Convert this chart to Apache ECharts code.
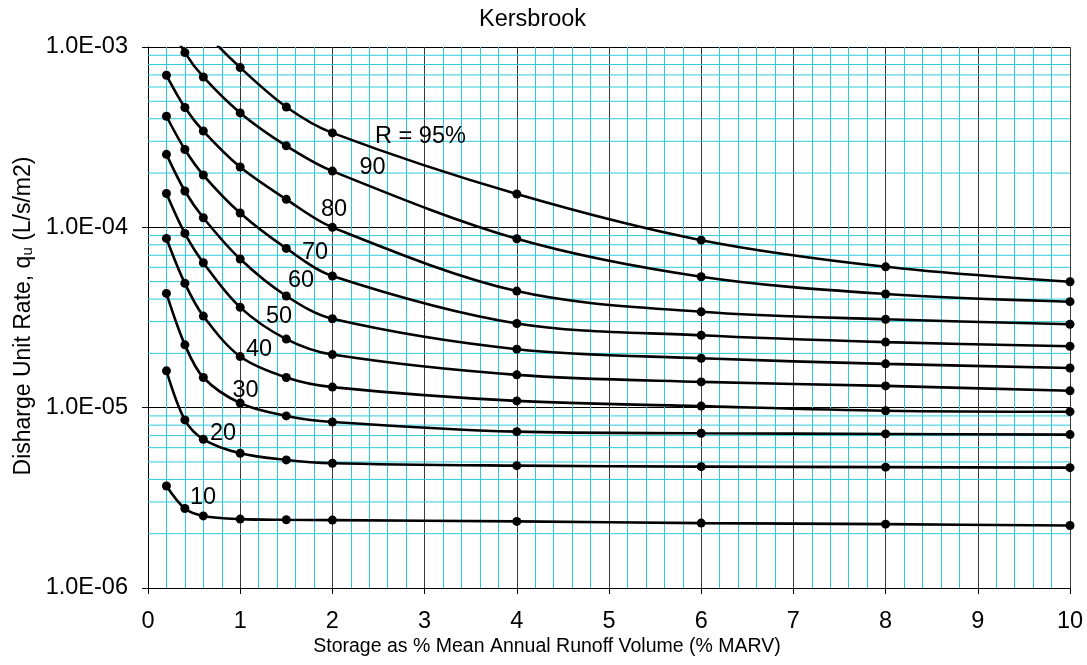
<!DOCTYPE html>
<html>
<head>
<meta charset="utf-8">
<script src="https://cdn.jsdelivr.net/npm/echarts@6/dist/echarts.min.js"></script>
<style>
  html, body { margin: 0; padding: 0; background: #fff; }
  #chart { width: 1087px; height: 665px; }
</style>
</head>
<body>
<div id="chart"></div>
<script>
// Storage (% MARV) at which each reliability curve was evaluated
const storage = [0.2, 0.4, 0.6, 1, 1.5, 2, 4, 6, 8, 10];

// Discharge unit rate q_u (L/s/m2) for each reliability R
const r95 = [2.5e-3, 1.7e-3, 1.24e-3, 7.69e-4, 4.65e-4, 3.34e-4, 1.53e-4, 8.49e-5, 6.04e-5, 4.99e-5];
const r90 = [1.45e-3, 9.31e-4, 6.82e-4, 4.31e-4, 2.83e-4, 2.05e-4, 8.64e-5, 5.32e-5, 4.27e-5, 3.87e-5];
const r80 = [6.97e-4, 4.62e-4, 3.42e-4, 2.16e-4, 1.43e-4, 1.0e-4, 4.43e-5, 3.40e-5, 3.09e-5, 2.90e-5];
const r70 = [4.13e-4, 2.70e-4, 1.95e-4, 1.20e-4, 7.64e-5, 5.37e-5, 2.93e-5, 2.52e-5, 2.31e-5, 2.19e-5];
const r60 = [2.54e-4, 1.59e-4, 1.13e-4, 6.67e-5, 4.16e-5, 3.11e-5, 2.11e-5, 1.88e-5, 1.75e-5, 1.66e-5];
const r50 = [1.54e-4, 9.25e-5, 6.36e-5, 3.60e-5, 2.40e-5, 1.97e-5, 1.52e-5, 1.39e-5, 1.32e-5, 1.24e-5];
const r40 = [8.68e-5, 4.89e-5, 3.22e-5, 1.92e-5, 1.47e-5, 1.30e-5, 1.09e-5, 1.02e-5, 9.62e-6, 9.50e-6];
const r30 = [4.30e-5, 2.23e-5, 1.47e-5, 1.06e-5, 9.0e-6, 8.33e-6, 7.36e-6, 7.21e-6, 7.15e-6, 7.09e-6];
const r20 = [1.60e-5, 8.55e-6, 6.68e-6, 5.59e-6, 5.13e-6, 4.92e-6, 4.77e-6, 4.71e-6, 4.68e-6, 4.65e-6];
const r10 = [3.68e-6, 2.76e-6, 2.51e-6, 2.41e-6, 2.39e-6, 2.38e-6, 2.34e-6, 2.29e-6, 2.26e-6, 2.22e-6];

// Curve captions and where they sit (storage, q_u)
const curveLabels = ['R = 95%', '90', '80', '70', '60', '50', '40', '30', '20', '10'];
const curveLabelX = [2.955, 2.435, 2.017, 1.811, 1.659, 1.421, 1.204, 1.057, 0.813, 0.597];
const curveLabelY = [3.20e-4, 2.16e-4, 1.26e-4, 7.27e-5, 5.09e-5, 3.22e-5, 2.09e-5, 1.245e-5, 7.22e-6, 3.17e-6];

// Axis tick labels
const xTickLabels = ['0', '1', '2', '3', '4', '5', '6', '7', '8', '9', '10'];
const yTickLabels = { '-6': '1.0E-06', '-5': '1.0E-05', '-4': '1.0E-04', '-3': '1.0E-03' };

const FONT = "'Liberation Sans', Arial, sans-serif";
const CYAN = '#2ccbdc';
const X_MIN = 0, X_MAX = 10;

const curves = [r95, r90, r80, r70, r60, r50, r40, r30, r20, r10];

// log-cycle minor grid values (2..9 within each decade)
const minorGrid = [];
for (let e = -6; e < -3; e++) {
  for (let m = 2; m <= 9; m++) minorGrid.push(m * Math.pow(10, e));
}

const series = [];

// minor horizontal grid lines, one thin line across the full storage range
minorGrid.forEach(v => {
  series.push({
    type: 'line',
    data: [[X_MIN, v], [X_MAX, v]],
    symbol: 'none',
    silent: true,
    z: 1,
    lineStyle: { color: CYAN, width: 1 },
    emphasis: { disabled: true }
  });
});

curves.forEach((vals, i) => {
  series.push({
    type: 'line',
    name: curveLabels[i],
    data: storage.map((x, k) => [x, vals[k]]),
    smooth: 0.33,
    symbol: 'circle',
    symbolSize: 9,
    showSymbol: true,
    clip: true,
    z: 3,
    lineStyle: { color: '#000', width: 2.6 },
    itemStyle: { color: '#000' },
    emphasis: { disabled: true },
    silent: true
  });
});

const axisTitles = [
  {
    type: 'text',
    x: 547,
    y: 637,
    silent: true,
    style: {
      text: 'Storage as % Mean Annual Runoff Volume (% MARV)',
      font: '19.5px ' + FONT,
      fill: '#000',
      align: 'center',
      verticalAlign: 'top'
    }
  },
  {
    type: 'text',
    x: 24,
    y: 316,
    rotation: Math.PI / 2,
    silent: true,
    style: {
      text: 'Disharge Unit Rate, q{sub|u} (L/s/m2)',
      font: '23px ' + FONT,
      fill: '#000',
      align: 'center',
      verticalAlign: 'middle',
      rich: {
        sub: { fontSize: 15, fontFamily: FONT, fill: '#000', verticalAlign: 'bottom', padding: [7, 0, 0, 0] }
      }
    }
  }
];

const chart = echarts.init(document.getElementById('chart'), null, { renderer: 'canvas' });
chart.setOption({
  animation: false,
  backgroundColor: '#fff',
  title: {
    text: 'Kersbrook',
    left: 479,
    top: 8,
    padding: 0,
    textStyle: { fontFamily: FONT, fontSize: 23.5, fontWeight: 'normal', color: '#000' }
  },
  grid: { left: 148, right: 17, top: 47, bottom: 77, containLabel: false },
  xAxis: {
    type: 'value',
    min: X_MIN,
    max: X_MAX,
    interval: 1,
    axisLine: { show: true, onZero: false, lineStyle: { color: '#000', width: 1 } },
    axisTick: { show: true, length: 6, lineStyle: { color: '#000' } },
    axisLabel: {
      margin: 22,
      fontFamily: FONT,
      fontSize: 23.5,
      color: '#000',
      formatter: v => xTickLabels[Math.round(v)]
    },
    splitLine: { show: true, lineStyle: { color: '#3a3a3a', width: 1 } },
    minorTick: { show: false, splitNumber: 5 },
    minorSplitLine: { show: true, lineStyle: { color: CYAN, width: 1 } }
  },
  yAxis: {
    type: 'log',
    logBase: 10,
    min: 1e-6,
    max: 1e-3,
    axisLine: { show: true, onZero: false, lineStyle: { color: '#000', width: 1 } },
    axisTick: { show: true, length: 6, lineStyle: { color: '#000' } },
    axisLabel: {
      margin: 20,
      fontFamily: FONT,
      fontSize: 23.5,
      color: '#000',
      formatter: v => yTickLabels[String(Math.round(Math.log10(v)))] || ''
    },
    splitLine: { show: true, lineStyle: { color: '#000', width: 1 } }
  },
  graphic: axisTitles,
  series: series
});

// curve captions placed through the chart's own coordinate system
const captions = curveLabels.map((txt, i) => {
  const p = chart.convertToPixel({ gridIndex: 0 }, [curveLabelX[i], curveLabelY[i]]);
  return {
    type: 'text',
    x: p[0],
    y: p[1],
    silent: true,
    z: 10,
    style: {
      text: txt,
      font: '23.5px ' + FONT,
      fill: '#000',
      align: 'center',
      verticalAlign: 'middle'
    }
  };
});
chart.setOption({ graphic: axisTitles.concat(captions) });
</script>
</body>
</html>
